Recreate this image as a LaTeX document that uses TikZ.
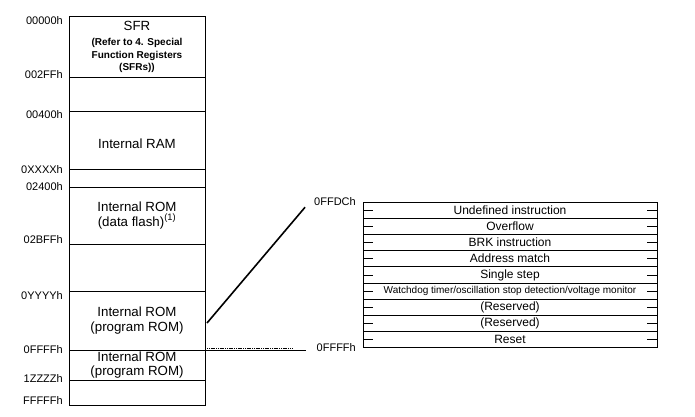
\documentclass[tikz,border=0pt]{standalone}
\usepackage{fontspec}
\setmainfont{Liberation Sans}
\usetikzlibrary{positioning}
\newcommand{\sfrnote}[1]{{\bfseries\fontsize{10}{12}\selectfont #1}}
\tikzset{
  mem box/.style={
    draw=black,
    line width=0.8pt,
    minimum width=136pt,
    anchor=north west,
    inner sep=0pt,
    outer sep=0pt,
    align=center,
    font=\fontsize{13.3}{14.5}\selectfont
  },
  addr label/.style={font=\fontsize{11}{12}\selectfont, anchor=east, inner sep=1pt},
  vec row/.style={
    draw=black,
    line width=0.8pt,
    minimum width=294pt,
    minimum height=16.2pt,
    inner sep=0pt,
    outer sep=0pt,
    font=\fontsize{12}{13}\selectfont
  },
  vec tick/.style={line width=0.6pt},
  zoom line/.style={line width=1.6pt},
  dash line/.style={line width=0.5pt, dash pattern=on 1.2pt off 0.6pt}
}

\begin{document}
\begin{tikzpicture}[x=1pt,y=-1pt]
\useasboundingbox (0,0) rectangle (695,416);
% memory map
\node[mem box, minimum height=61pt] (sfr) at (69,16) {SFR\\[0.5pt]\sfrnote{(Refer to 4. Special}\\[-1.5pt]\sfrnote{Function Registers}\\[-2.5pt]\sfrnote{(SFRs))}};
\node[mem box, minimum height=34pt, below=0pt of sfr] (gapa) {};
\node[mem box, minimum height=58pt, below=0pt of gapa] (ram) {\raisebox{-4pt}[10pt][2pt]{Internal RAM}};
\node[mem box, minimum height=18pt, below=0pt of ram] (gapb) {};
\node[mem box, minimum height=57pt, below=0pt of gapb] (dflash) {Internal ROM\\(data flash)\textsuperscript{(1)}};
\node[mem box, minimum height=47pt, below=0pt of dflash] (gapc) {};
\node[mem box, minimum height=59pt, below=0pt of gapc] (prom) {Internal ROM\\(program ROM)};
\node[mem box, minimum height=30pt, below=0pt of prom] (promb) {Internal ROM\\(program ROM)};
\node[mem box, minimum height=25pt, below=0pt of promb] (tail) {};

% addresses
\node[addr label] (a00000) at (64,21) {00000h};
\node[addr label] (a002ff) at (64,75) {002FFh};
\node[addr label] (a00400) at (64,115) {00400h};
\node[addr label] (a0xxxx) at (64,170) {0XXXXh};
\node[addr label] (a02400) at (64,187) {02400h};
\node[addr label] (a02bff) at (64,240) {02BFFh};
\node[addr label] (a0yyyy) at (64,296) {0YYYYh};
\node[addr label] (a0ffff) at (64,350) {0FFFFh};
\node[addr label] (a1zzzz) at (64,379) {1ZZZZh};
\node[addr label] (afffff) at (64,401) {FFFFFh};

% vector table
\node[vec row, anchor=north west] (vundef) at (363,202) {Undefined instruction};
\node[vec row, below=0pt of vundef] (vovf) {Overflow};
\node[vec row, below=0pt of vovf] (vbrk) {BRK instruction};
\node[vec row, below=0pt of vbrk] (vaddr) {Address match};
\node[vec row, below=0pt of vaddr] (vstep) {Single step};
\node[vec row, below=0pt of vstep, font=\fontsize{10}{11}\selectfont] (vwdt) {Watchdog timer/oscillation stop detection/voltage monitor};
\node[vec row, below=0pt of vwdt] (vresa) {(Reserved)};
\node[vec row, below=0pt of vresa] (vresb) {(Reserved)};
\node[vec row, below=0pt of vresb] (vreset) {Reset};
\draw[line width=1.8pt] (vovf.south west) -- (vovf.south east);
\foreach \r in {vundef,vovf,vbrk,vaddr,vstep,vwdt,vresa,vresb,vreset}{
  \draw[vec tick] (\r.west) -- ++(10,0);
  \draw[vec tick] (\r.east) -- ++(-10,0);
}

\node[addr label, left=6pt of vundef.north west] (vtop) {0FFDCh};
\node[addr label, left=6pt of vreset.south west] (vbot) {0FFFFh};

% zoom lines
\coordinate (fend) at (306,350);
\coordinate (dend) at (293,348);
\draw[zoom line] ([xshift=2pt,yshift=-2.5pt]prom.east) -- ([xshift=-8pt]vtop.south west);
\draw[line width=0.8pt] (prom.south east) -- (fend);
\draw[dash line] ([xshift=2pt,yshift=2pt]prom.south east) -- (dend);
\end{tikzpicture}
\end{document}
